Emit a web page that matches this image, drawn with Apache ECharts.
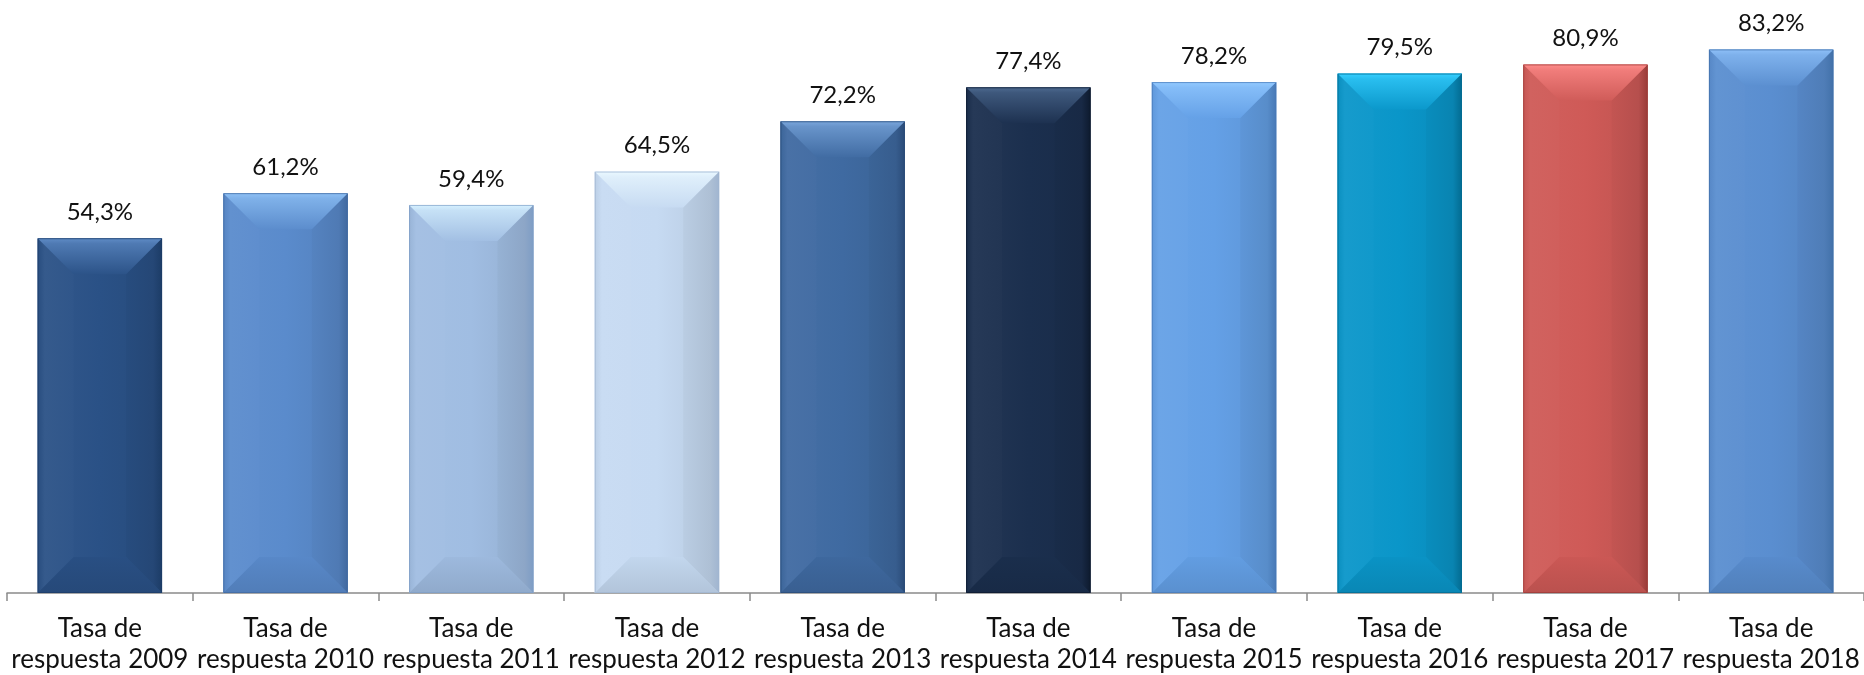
<!DOCTYPE html>
<html><head><meta charset="utf-8">
<script src="https://cdn.jsdelivr.net/npm/echarts@6/dist/echarts.min.js"></script>
<style>html,body{margin:0;padding:0;background:#fff}#c{width:1864px;height:675px}</style>
</head><body><div id="c"></div>
<script>
const categories = ['Tasa de\nrespuesta 2009','Tasa de\nrespuesta 2010','Tasa de\nrespuesta 2011','Tasa de\nrespuesta 2012','Tasa de\nrespuesta 2013','Tasa de\nrespuesta 2014','Tasa de\nrespuesta 2015','Tasa de\nrespuesta 2016','Tasa de\nrespuesta 2017','Tasa de\nrespuesta 2018'];
const values = [54.3, 61.2, 59.4, 64.5, 72.2, 77.4, 78.2, 79.5, 80.9, 83.2];
const baseColors  = ['#2a5186','#5a8bcc','#a0bde2','#c6daf2','#3f6aa1','#1b2f4e','#64a0e6','#0a96c9','#cf5a57','#5a8ed0'];
const lightColors = ['#5f8cc6','#8fc1f6','#d6f1ff','#eaf8ff','#7aa6dc','#4d6a90','#93caff','#36cfff','#ff8c8a','#8ec0f8'];
const darkColors  = ['#1c3c66','#41699f','#7e9dc5','#a0b5d0','#2a4b78','#0d1a2e','#4879b6','#036b91','#9a3b38','#4271a9'];

const chart = echarts.init(document.getElementById('c'), null, {renderer:'canvas'});
const FONT = 'Lato, "Open Sans", sans-serif';

function hex2rgb(h) { h = h.replace('#',''); return [0,2,4].map(k => parseInt(h.substr(k,2),16)); }
function mix(a, b, t) {
  const A = hex2rgb(a), B = hex2rgb(b);
  return 'rgb(' + A.map((v,k) => Math.round(v + (B[k]-v)*t)).join(',') + ')';
}
const darken = (c, t) => mix(c, '#000000', t);
const lighten = (c, t) => mix(c, '#ffffff', t);

function renderItem(params, api) {
  const i = params.dataIndex;
  const v = api.value(1);
  const top = api.coord([i, v]);
  const bot = api.coord([i, 0]);
  const bw = api.size([1, 0])[0] * 0.67;
  const x0 = top[0] - bw / 2, x1 = top[0] + bw / 2;
  const y0 = top[1], y1 = bot[1];
  const h = y1 - y0;
  const b = Math.min(36, h / 2, bw / 2);
  const base = baseColors[i], light = lightColors[i], dark = darkColors[i];
  const LG = (x2, y2, stops) => new echarts.graphic.LinearGradient(0, 0, x2, y2,
    stops.map(s => ({offset: s[0], color: s[1]})));
  const children = [
    {type: 'rect', shape: {x: x0, y: y0, width: bw, height: h},
     style: {fill: LG(1, 0, [[0, lighten(base, 0.04)], [0.5, base], [1, darken(base, 0.08)]])}},
    {type: 'polygon', shape: {points: [[x0, y0], [x0 + b, y0 + b], [x0 + b, y1 - b], [x0, y1]]},
     style: {fill: LG(1, 0, [[0, darken(base, 0.05)], [0.2, lighten(base, 0.05)], [1, lighten(base, 0.03)]])}},
    {type: 'polygon', shape: {points: [[x1, y0], [x1 - b, y0 + b], [x1 - b, y1 - b], [x1, y1]]},
     style: {fill: LG(1, 0, [[0, darken(base, 0.06)], [0.75, darken(base, 0.12)], [1, dark]])}},
    {type: 'polygon', shape: {points: [[x0, y0], [x1, y0], [x1 - b, y0 + b], [x0 + b, y0 + b]]},
     style: {fill: LG(0, 1, [[0, light], [0.15, mix(light, base, 0.3)], [1, mix(light, base, 0.97)]])}},
    {type: 'polygon', shape: {points: [[x0, y1], [x1, y1], [x1 - b, y1 - b], [x0 + b, y1 - b]]},
     style: {fill: LG(0, 1, [[0, darken(base, 0.02)], [1, darken(base, 0.1)]])}},
    {type: 'rect', shape: {x: x0 + 0.5, y: y0 + 0.5, width: bw - 1, height: h - 1},
     style: {fill: null, stroke: dark, lineWidth: 1, opacity: 0.7}},
    {type: 'text', style: {x: top[0], y: y0 - 26, text: v.toFixed(1).replace('.', ',') + '%',
      font: '24px ' + FONT, fill: '#111', align: 'center', verticalAlign: 'middle'}}
  ];
  return {type: 'group', children};
}

chart.setOption({
  animation: false,
  grid: {left: 7, top: 5, width: 1864, bottom: 80, containLabel: false},
  xAxis: {
    type: 'category', data: categories, boundaryGap: true,
    axisLine: {lineStyle: {color: '#8a8a8a', width: 1.5}},
    axisTick: {show: true, length: 8, lineStyle: {color: '#8a8a8a', width: 1.5}},
    axisLabel: {color: '#111', fontFamily: FONT, fontSize: 26, lineHeight: 31, margin: 20, interval: 0}
  },
  yAxis: {type: 'value', min: 0, max: 90, show: false, splitLine: {show: false}},
  series: [{
    type: 'custom', renderItem,
    data: values.map((v, i) => [i, v]),
    encode: {x: 0, y: 1}
  }]
});
</script></body></html>
